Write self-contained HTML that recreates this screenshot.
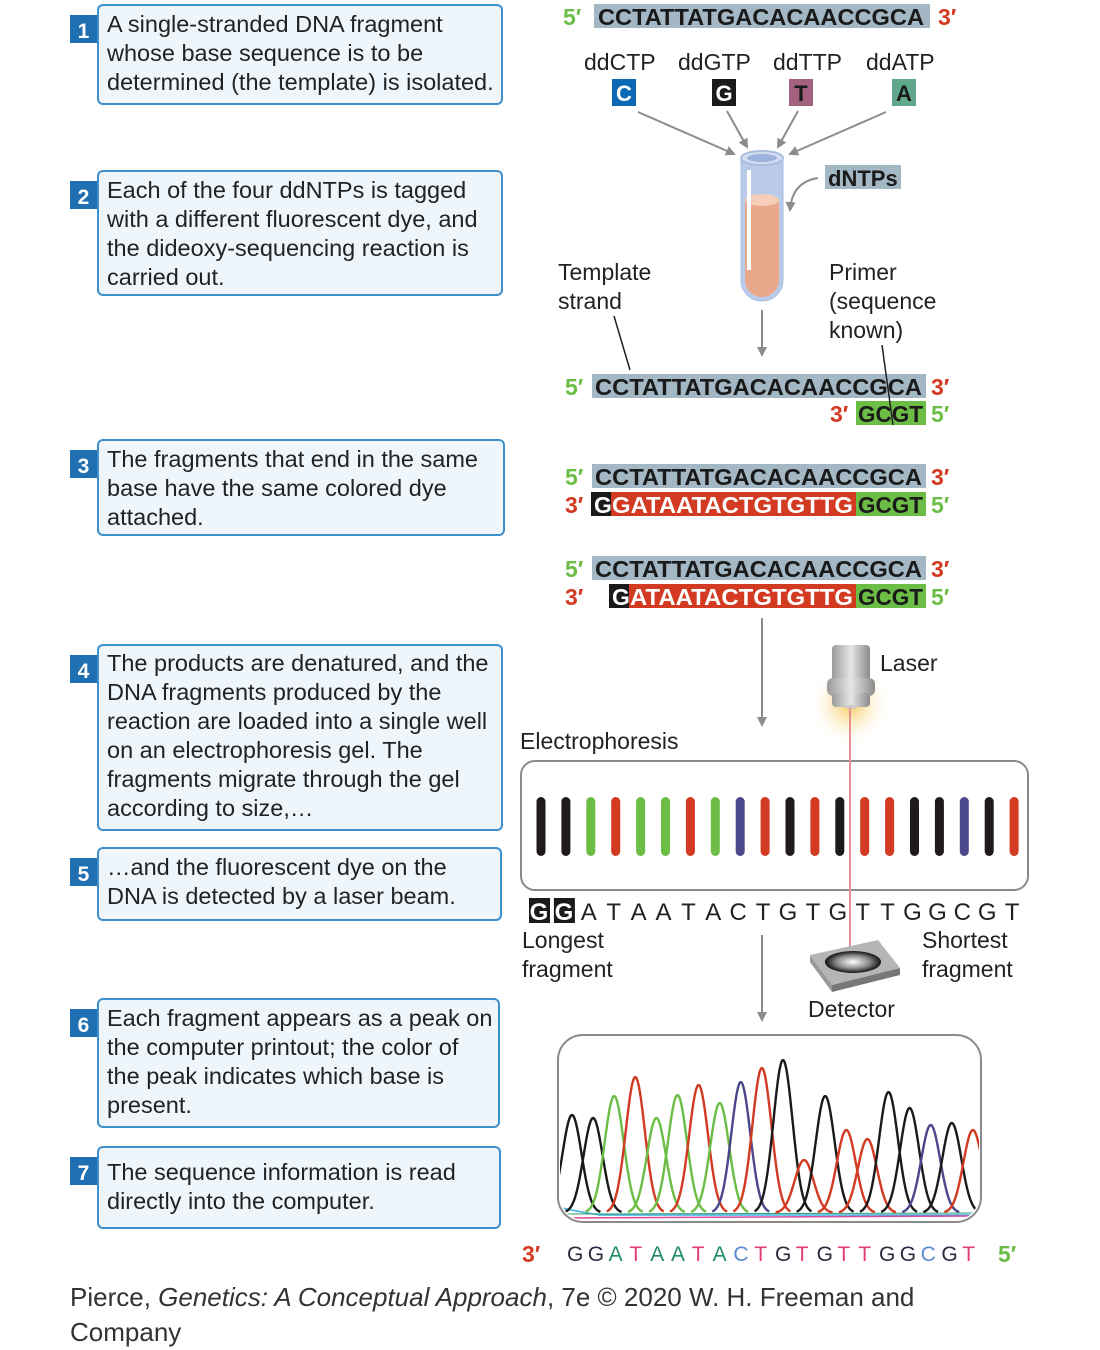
<!DOCTYPE html>
<html><head><meta charset="utf-8">
<style>
html,body{margin:0;padding:0;background:#fff;}
svg{display:block;}
.bt{font-family:"Liberation Sans",sans-serif;font-size:23.5px;fill:#222;}
.lab{font-family:"Liberation Sans",sans-serif;font-size:23px;fill:#222;}
.seq{font-family:"Liberation Sans",sans-serif;font-weight:bold;font-size:23px;}
.end{font-family:"Liberation Sans",sans-serif;font-weight:bold;font-size:23px;}
</style></head>
<body>
<svg id="fig" width="1100" height="1350" viewBox="0 0 1100 1350" xmlns="http://www.w3.org/2000/svg">
<defs>
<radialGradient id="glow" cx="50%" cy="50%" r="50%"><stop offset="0" stop-color="#f5c34a" stop-opacity="0.9"/><stop offset="1" stop-color="#fff" stop-opacity="0"/></radialGradient>
<linearGradient id="metal" x1="0" x2="1"><stop offset="0" stop-color="#9a9a9a"/><stop offset="0.5" stop-color="#e6e6e6"/><stop offset="1" stop-color="#8a8a8a"/></linearGradient>
<radialGradient id="hole" cx="50%" cy="50%" r="50%"><stop offset="0" stop-color="#fff"/><stop offset="0.6" stop-color="#888"/><stop offset="1" stop-color="#111"/></radialGradient>
<marker id="ah" markerWidth="10" markerHeight="10" refX="8" refY="5" orient="auto" markerUnits="userSpaceOnUse"><path d="M0,0 L10,5 L0,10 z" fill="#8c8c8c"/></marker>
<clipPath id="chromClip"><rect x="560" y="1037" width="419" height="183" rx="24"/></clipPath>
</defs>

<!-- Step boxes -->
<g>
<rect x="98" y="5" width="404" height="99" rx="5" fill="#eef6fc" stroke="#3f8fcc" stroke-width="2"/>
<rect x="70" y="15" width="27" height="28" fill="#1f6fb2"/><text x="83.5" y="38" text-anchor="middle" font-family="Liberation Sans" font-weight="bold" font-size="21" fill="#fff">1</text>
<text class="bt" x="107"><tspan x="107" y="32">A single-stranded DNA fragment</tspan><tspan x="107" y="61">whose base sequence is to be</tspan><tspan x="107" y="90">determined (the template) is isolated.</tspan></text>
</g>
<g>
<rect x="98" y="171" width="404" height="124" rx="5" fill="#eef6fc" stroke="#3f8fcc" stroke-width="2"/>
<rect x="70" y="181" width="27" height="28" fill="#1f6fb2"/><text x="83.5" y="204" text-anchor="middle" font-family="Liberation Sans" font-weight="bold" font-size="21" fill="#fff">2</text>
<text class="bt"><tspan x="107" y="198">Each of the four ddNTPs is tagged</tspan><tspan x="107" y="227">with a different fluorescent dye, and</tspan><tspan x="107" y="256">the dideoxy-sequencing reaction is</tspan><tspan x="107" y="285">carried out.</tspan></text>
</g>
<g>
<rect x="98" y="440" width="406" height="95" rx="5" fill="#eef6fc" stroke="#3f8fcc" stroke-width="2"/>
<rect x="70" y="450" width="27" height="28" fill="#1f6fb2"/><text x="83.5" y="473" text-anchor="middle" font-family="Liberation Sans" font-weight="bold" font-size="21" fill="#fff">3</text>
<text class="bt"><tspan x="107" y="467">The fragments that end in the same</tspan><tspan x="107" y="496">base have the same colored dye</tspan><tspan x="107" y="525">attached.</tspan></text>
</g>
<g>
<rect x="98" y="645" width="404" height="185" rx="5" fill="#eef6fc" stroke="#3f8fcc" stroke-width="2"/>
<rect x="70" y="655" width="27" height="28" fill="#1f6fb2"/><text x="83.5" y="678" text-anchor="middle" font-family="Liberation Sans" font-weight="bold" font-size="21" fill="#fff">4</text>
<text class="bt"><tspan x="107" y="671">The products are denatured, and the</tspan><tspan x="107" y="700">DNA fragments produced by the</tspan><tspan x="107" y="729">reaction are loaded into a single well</tspan><tspan x="107" y="758">on an electrophoresis gel. The</tspan><tspan x="107" y="787">fragments migrate through the gel</tspan><tspan x="107" y="816">according to size,…</tspan></text>
</g>
<g>
<rect x="98" y="848" width="403" height="72" rx="5" fill="#eef6fc" stroke="#3f8fcc" stroke-width="2"/>
<rect x="70" y="858" width="27" height="28" fill="#1f6fb2"/><text x="83.5" y="881" text-anchor="middle" font-family="Liberation Sans" font-weight="bold" font-size="21" fill="#fff">5</text>
<text class="bt"><tspan x="107" y="875">…and the fluorescent dye on the</tspan><tspan x="107" y="904">DNA is detected by a laser beam.</tspan></text>
</g>
<g>
<rect x="98" y="999" width="401" height="128" rx="5" fill="#eef6fc" stroke="#3f8fcc" stroke-width="2"/>
<rect x="70" y="1009" width="27" height="28" fill="#1f6fb2"/><text x="83.5" y="1032" text-anchor="middle" font-family="Liberation Sans" font-weight="bold" font-size="21" fill="#fff">6</text>
<text class="bt"><tspan x="107" y="1026">Each fragment appears as a peak on</tspan><tspan x="107" y="1055">the computer printout; the color of</tspan><tspan x="107" y="1084">the peak indicates which base is</tspan><tspan x="107" y="1113">present.</tspan></text>
</g>
<g>
<rect x="98" y="1147" width="402" height="81" rx="5" fill="#eef6fc" stroke="#3f8fcc" stroke-width="2"/>
<rect x="70" y="1157" width="27" height="28" fill="#1f6fb2"/><text x="83.5" y="1180" text-anchor="middle" font-family="Liberation Sans" font-weight="bold" font-size="21" fill="#fff">7</text>
<text class="bt"><tspan x="107" y="1180">The sequence information is read</tspan><tspan x="107" y="1209">directly into the computer.</tspan></text>
</g>

<!-- Top template strand -->
<g>
<text class="end" x="563" y="25" fill="#6cbd45">5′</text>
<rect x="594" y="4" width="336" height="24" fill="#a3b8c4"/>
<text class="seq" x="598" y="25" textLength="326" lengthAdjust="spacingAndGlyphs" fill="#1a1a1a">CCTATTATGACACAACCGCA</text>
<text class="end" x="938" y="25" fill="#d23a22">3′</text>
</g>

<!-- ddNTPs -->
<g>
<text class="lab" x="584" y="70">ddCTP</text>
<text class="lab" x="678" y="70">ddGTP</text>
<text class="lab" x="773" y="70">ddTTP</text>
<text class="lab" x="866" y="70">ddATP</text>
<rect x="612" y="79" width="24" height="27" fill="#0a68b4"/><text x="624" y="101" text-anchor="middle" font-family="Liberation Sans" font-weight="bold" font-size="22" fill="#fff">C</text>
<rect x="712" y="79" width="24" height="27" fill="#1a1a1a"/><text x="724" y="101" text-anchor="middle" font-family="Liberation Sans" font-weight="bold" font-size="22" fill="#fff">G</text>
<rect x="789" y="79" width="24" height="27" fill="#a3607f"/><text x="801" y="101" text-anchor="middle" font-family="Liberation Sans" font-weight="bold" font-size="22" fill="#1a1a1a">T</text>
<rect x="892" y="79" width="24" height="27" fill="#5fa88b"/><text x="904" y="101" text-anchor="middle" font-family="Liberation Sans" font-weight="bold" font-size="22" fill="#1a1a1a">A</text>
<g stroke="#8c8c8c" stroke-width="2" fill="none" marker-end="url(#ah)">
<line x1="638" y1="112" x2="734" y2="154"/>
<line x1="727" y1="111" x2="747" y2="147"/>
<line x1="798" y1="111" x2="778" y2="147"/>
<line x1="886" y1="112" x2="790" y2="154"/>
</g>
</g>

<!-- Tube -->
<g>
<path d="M741,158 L741,280 A21,21 0 0 0 783,280 L783,158 Z" fill="#b9cbe8" stroke="#a8bde0" stroke-width="1"/>
<path d="M745,200 L745,280 A17,17 0 0 0 779,280 L779,200 Z" fill="#eaa88b"/>
<ellipse cx="762" cy="200" rx="17" ry="6" fill="#f5cdb8"/>
<ellipse cx="762" cy="158" rx="21" ry="7" fill="#d4def0" stroke="#a8bde0" stroke-width="2"/>
<ellipse cx="762" cy="158" rx="15" ry="4" fill="#9db3dd"/>
<rect x="747" y="170" width="4" height="65" fill="#fff"/>
<rect x="747" y="230" width="4" height="40" fill="#fff"/>
</g>
<g>
<rect x="825" y="165" width="76" height="24" fill="#a3b8c4"/>
<text x="828" y="186" font-family="Liberation Sans" font-weight="bold" font-size="22" fill="#1a1a1a">dNTPs</text>
<path d="M818,178 Q792,182 790,210" stroke="#8c8c8c" stroke-width="2" fill="none" marker-end="url(#ah)"/>
</g>
<text class="lab"><tspan x="558" y="280">Template</tspan><tspan x="558" y="309">strand</tspan></text>
<line x1="614" y1="316" x2="630" y2="370" stroke="#222" stroke-width="1.5"/>
<text class="lab"><tspan x="829" y="280">Primer</tspan><tspan x="829" y="309">(sequence</tspan><tspan x="829" y="338">known)</tspan></text>
<line x1="762" y1="310" x2="762" y2="355" stroke="#8c8c8c" stroke-width="2" marker-end="url(#ah)"/>

<!-- Template + primer -->
<g>
<text class="end" x="565" y="395" fill="#6cbd45">5′</text>
<rect x="592" y="374" width="334" height="24" fill="#a3b8c4"/>
<text class="seq" x="595" y="395" textLength="327" lengthAdjust="spacingAndGlyphs" fill="#1a1a1a">CCTATTATGACACAACCGCA</text>
<text class="end" x="931" y="395" fill="#d23a22">3′</text>
<text class="end" x="830" y="422" fill="#d23a22">3′</text>
<rect x="856" y="401" width="70" height="24" fill="#6cbd45"/>
<text class="seq" x="858" y="422" textLength="65" lengthAdjust="spacingAndGlyphs" fill="#1a1a1a">GCGT</text>
<text class="end" x="931" y="422" fill="#6cbd45">5′</text>
<line x1="882" y1="345" x2="893" y2="425" stroke="#222" stroke-width="1.5"/>
</g>

<!-- Extended 1 -->
<g>
<text class="end" x="565" y="485" fill="#6cbd45">5′</text>
<rect x="592" y="464" width="334" height="24" fill="#a3b8c4"/>
<text class="seq" x="595" y="485" textLength="327" lengthAdjust="spacingAndGlyphs" fill="#1a1a1a">CCTATTATGACACAACCGCA</text>
<text class="end" x="931" y="485" fill="#d23a22">3′</text>
<text class="end" x="565" y="513" fill="#d23a22">3′</text>
<rect x="591" y="492" width="20" height="24" fill="#1a1a1a"/>
<rect x="611" y="492" width="245" height="24" fill="#d23a22"/>
<rect x="856" y="492" width="70" height="24" fill="#6cbd45"/>
<text class="seq" x="594" y="513" fill="#fff">G</text>
<text class="seq" x="612" y="513" textLength="241" lengthAdjust="spacingAndGlyphs" fill="#fff">GATAATACTGTGTTG</text>
<text class="seq" x="858" y="513" textLength="65" lengthAdjust="spacingAndGlyphs" fill="#1a1a1a">GCGT</text>
<text class="end" x="931" y="513" fill="#6cbd45">5′</text>
</g>
<!-- Extended 2 -->
<g>
<text class="end" x="565" y="577" fill="#6cbd45">5′</text>
<rect x="592" y="556" width="334" height="24" fill="#a3b8c4"/>
<text class="seq" x="595" y="577" textLength="327" lengthAdjust="spacingAndGlyphs" fill="#1a1a1a">CCTATTATGACACAACCGCA</text>
<text class="end" x="931" y="577" fill="#d23a22">3′</text>
<text class="end" x="565" y="605" fill="#d23a22">3′</text>
<rect x="609" y="584" width="20" height="24" fill="#1a1a1a"/>
<rect x="629" y="584" width="227" height="24" fill="#d23a22"/>
<rect x="856" y="584" width="70" height="24" fill="#6cbd45"/>
<text class="seq" x="612" y="605" fill="#fff">G</text>
<text class="seq" x="630" y="605" textLength="223" lengthAdjust="spacingAndGlyphs" fill="#fff">ATAATACTGTGTTG</text>
<text class="seq" x="858" y="605" textLength="65" lengthAdjust="spacingAndGlyphs" fill="#1a1a1a">GCGT</text>
<text class="end" x="931" y="605" fill="#6cbd45">5′</text>
</g>

<line x1="762" y1="618" x2="762" y2="725" stroke="#8c8c8c" stroke-width="2" marker-end="url(#ah)"/>

<!-- Laser -->
<g>
<circle cx="850" cy="705" r="42" fill="url(#glow)"/>
<rect x="832" y="645" width="38" height="40" rx="4" fill="url(#metal)"/>
<rect x="827" y="678" width="48" height="18" rx="6" fill="url(#metal)"/>
<rect x="832" y="693" width="38" height="14" rx="4" fill="url(#metal)"/>
<ellipse cx="851" cy="707" rx="6" ry="2" fill="#ccc"/>
</g>
<text class="lab" x="880" y="671">Laser</text>
<text class="lab" x="520" y="749">Electrophoresis</text>

<!-- Gel -->
<rect x="521" y="761" width="507" height="129" rx="14" fill="#fff" stroke="#8a8a8a" stroke-width="2"/>
<g id="bands"></g>
<g id="gelSeq"></g>
<line x1="850" y1="708" x2="850" y2="955" stroke="#d8585a" stroke-width="2"/>
<line x1="850" y1="708" x2="850" y2="955" stroke="#fff" stroke-width="0.7"/>

<text class="lab"><tspan x="522" y="948">Longest</tspan><tspan x="522" y="977">fragment</tspan></text>
<text class="lab"><tspan x="922" y="948">Shortest</tspan><tspan x="922" y="977">fragment</tspan></text>

<g>
<path d="M810,955 L878,940 L900,968 L832,985 Z" fill="#b5b5b5"/>
<path d="M832,985 L900,968 L900,975 L832,992 Z" fill="#777"/>
<path d="M810,955 L832,985 L832,992 L810,962 Z" fill="#999"/>
<ellipse cx="853" cy="962" rx="28" ry="11" fill="url(#hole)"/>
</g>
<text class="lab" x="808" y="1017">Detector</text>
<line x1="762" y1="935" x2="762" y2="1020" stroke="#8c8c8c" stroke-width="2" marker-end="url(#ah)"/>

<!-- Chromatogram -->
<rect x="558" y="1035" width="423" height="187" rx="25" fill="#fff" stroke="#8a8a8a" stroke-width="2"/>
<g clip-path="url(#chromClip)">
<path d="M562,1208 Q580,1212 600,1215 L975,1215" stroke="#3ab0e0" stroke-width="1.5" fill="none"/>
<path d="M562,1218 L978,1216" stroke="#d94aa0" stroke-width="1.5" fill="none"/>
<path d="M565,1214 L975,1213" stroke="#2a9a70" stroke-width="1" fill="none"/>
<g id="peaks"></g>
</g>
<g id="readSeq"></g>
<text class="end" x="522" y="1262" font-size="26" fill="#d23a22">3′</text>
<text class="end" x="998" y="1262" font-size="26" fill="#6cbd45">5′</text>

<text x="70" y="1306" font-family="Liberation Sans" font-size="26" fill="#333">Pierce, <tspan font-style="italic">Genetics: A Conceptual Approach</tspan>, 7e © 2020 W. H. Freeman and</text>
<text x="70" y="1341" font-family="Liberation Sans" font-size="26" fill="#333">Company</text>
</svg>

<script>
// Gel band bases (longest to shortest)
const gelBases = ["G","G","A","T","A","A","T","A","C","T","G","T","G","T","T","G","G","C","G","T"];
// Chromatogram peaks
const peakBases = ["G","G","A","T","A","A","T","A","C","T","G","T","G","T","T","G","G","C","G","T"];
const peakHeights = [98,95,117,136,95,118,128,110,131,145,153,53,117,83,74,121,105,88,90,83];
// Read-out sequence under chromatogram
const readBases = ["G","G","A","T","A","A","T","A","C","T","G","T","G","T","T","G","G","C","G","T"];
const readText = readBases;

const NS="http://www.w3.org/2000/svg";
const bandColor={G:"#1f1a1c",A:"#6cbd45",T:"#d23a22",C:"#4b478b"};
const readColor={G:"#2a2a40",A:"#1e8a6a",T:"#e23a7a",C:"#5a8ad0"};
function gelX(i){return 541+i*24.9;}
function chromX(i){return 572+i*21.1;}
const baseY=1213;
function chromY(h){return baseY-h;}
function readX(i){return 567+i*20.8;}

const bands=document.getElementById('bands');
gelBases.forEach((b,i)=>{
  const r=document.createElementNS(NS,'rect');
  r.setAttribute('x',gelX(i)-4.5);r.setAttribute('y',797);
  r.setAttribute('width',9);r.setAttribute('height',59);r.setAttribute('rx',4.5);
  r.setAttribute('fill',bandColor[b]);
  
  
  bands.appendChild(r);
});
const gs=document.getElementById('gelSeq');
gelBases.forEach((b,i)=>{
  const x=gelX(i)-2;
  if(i<2){
    const r=document.createElementNS(NS,'rect');
    r.setAttribute('x',x-10);r.setAttribute('y',898);r.setAttribute('width',21);r.setAttribute('height',25);
    r.setAttribute('fill','#1a1a1a');
    
    
    gs.appendChild(r);
  }
  const t=document.createElementNS(NS,'text');
  t.setAttribute('x',x);t.setAttribute('y',920);t.setAttribute('text-anchor','middle');
  t.setAttribute('font-family','Liberation Sans');t.setAttribute('font-size','24');
  if(i<2){t.setAttribute('font-weight','bold');t.setAttribute('fill','#fff');}else t.setAttribute('fill','#222');
  t.textContent=b;
  
  
  gs.appendChild(t);
});

// peaks: one path per peak
const pk=document.getElementById('peaks');
const peakColor={G:"#1a1a1a",A:"#6cbd45",T:"#d23a22",C:"#4b478b"};
peakBases.forEach((b,i)=>{
  const cx=chromX(i),h=peakHeights[i],s=9.5;
  let d="";
  for(let dx=-3*s;dx<=3*s;dx+=1){
    const y=chromY(h*Math.exp(-dx*dx/(2*s*s)));
    d+=(d?"L":"M")+(cx+dx).toFixed(1)+","+y.toFixed(1);
  }
  const p=document.createElementNS(NS,'path');
  p.setAttribute('d',d);p.setAttribute('fill','none');p.setAttribute('stroke',peakColor[b]);
  p.setAttribute('stroke-width','2.4');p.setAttribute('stroke-linejoin','round');
  
  
  pk.appendChild(p);
});

const rs=document.getElementById('readSeq');
readText.forEach((b,i)=>{
  const t=document.createElementNS(NS,'text');
  t.setAttribute('x',readX(i));t.setAttribute('y',1261);
  t.setAttribute('font-family','Liberation Sans');t.setAttribute('font-size','21');
  t.setAttribute('fill',readColor[b]);
  t.textContent=b;
  
  
  rs.appendChild(t);
});
</script>
</body></html>
